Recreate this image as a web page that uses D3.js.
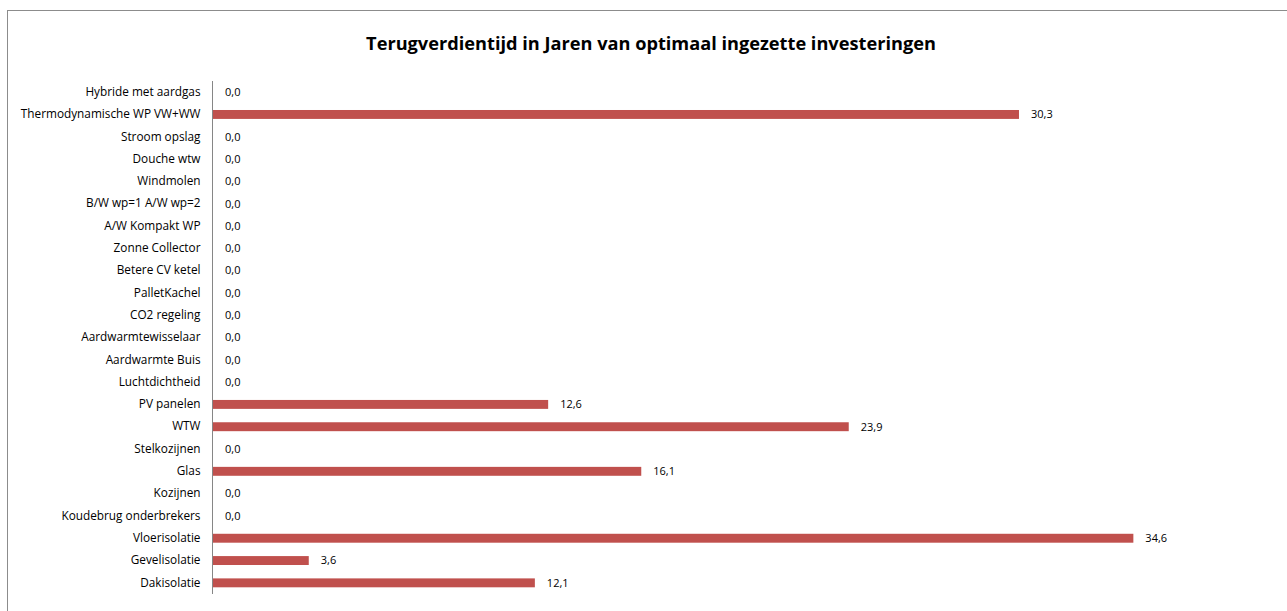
<!DOCTYPE html>
<html>
<head>
<meta charset="utf-8">
<script src="https://cdn.jsdelivr.net/npm/d3@7"></script>
<style>
  body { margin: 0; background: #fff; }
  text { font-family: "Open Sans", sans-serif; fill: #000; }
</style>
</head>
<body>
<svg id="chart" width="1287" height="611"></svg>
<script>
// categorieen van boven naar beneden
var categories = [
  "Hybride met aardgas", "Thermodynamische WP VW+WW", "Stroom opslag", "Douche wtw",
  "Windmolen", "B/W wp=1 A/W wp=2", "A/W Kompakt WP", "Zonne Collector",
  "Betere CV ketel", "PalletKachel", "CO2 regeling", "Aardwarmtewisselaar",
  "Aardwarmte Buis", "Luchtdichtheid", "PV panelen", "WTW", "Stelkozijnen",
  "Glas", "Kozijnen", "Koudebrug onderbrekers", "Vloerisolatie",
  "Gevelisolatie", "Dakisolatie"
];
var values = [0, 30.3, 0, 0, 0, 0, 0, 0, 0, 0, 0, 0, 0, 0, 12.6, 23.9, 0, 16.1, 0, 0, 34.6, 3.6, 12.1];
var title = "Terugverdientijd in Jaren van optimaal ingezette investeringen";

var svg = d3.select("#chart");

// kader rond de grafiek
svg.append("rect")
  .attr("x", 7.5).attr("y", 10.5)
  .attr("width", 1287).attr("height", 611)
  .attr("fill", "none").attr("stroke", "#8c8c8c");

svg.append("text")
  .attr("x", 651).attr("y", 50)
  .attr("text-anchor", "middle")
  .style("font-size", "18.2px").style("font-weight", "bold")
  .text(title);

var x = d3.scaleLinear().domain([0, 40]).range([213, 1277]);
var y = d3.scaleBand().domain(categories).range([81, 594]).paddingInner(0.6).paddingOuter(0.3);

var data = categories.map(function(c, i) { return { name: c, value: values[i] }; });

svg.append("g").selectAll("rect")
  .data(data)
  .enter().append("rect")
  .attr("x", x(0))
  .attr("y", function(d) { return y(d.name); })
  .attr("width", function(d) { return x(d.value) - x(0); })
  .attr("height", y.bandwidth())
  .attr("fill", "#c0504d");

svg.append("g").selectAll("text")
  .data(data)
  .enter().append("text")
  .attr("x", function(d) { return x(d.value) + 12; })
  .attr("y", function(d) { return y(d.name) + y.bandwidth() / 2; })
  .attr("dy", "0.35em")
  .style("font-size", "11px")
  .text(function(d) { return d.value.toFixed(1).replace(".", ","); });

// y-as met labels
var yAxis = svg.append("g")
  .attr("transform", "translate(212.5,0)")
  .call(d3.axisLeft(y).tickSize(0).tickPadding(12));
yAxis.select(".domain").attr("stroke", "#868686").attr("d", "M0,81V594");
yAxis.selectAll("text").style("font-size", "11.8px").style("font-family", "'Open Sans', sans-serif");
</script>
</body>
</html>
